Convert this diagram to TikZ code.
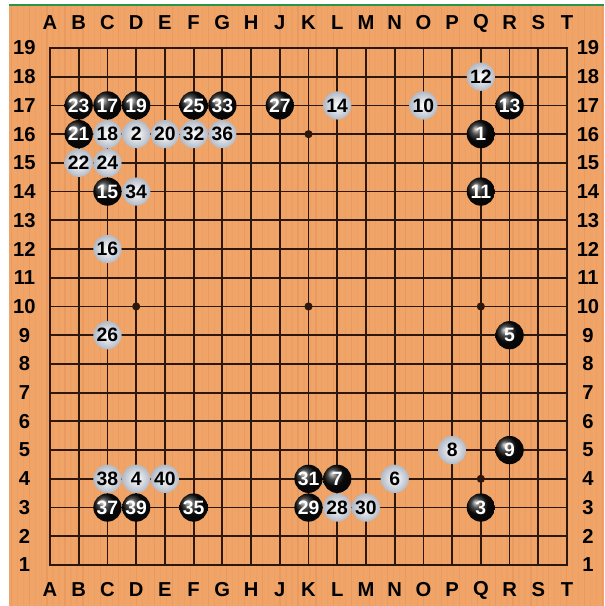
\documentclass[tikz,border=0pt]{standalone}
\usepackage{fontspec}
\setmainfont{Liberation Sans}
\usepackage{tikz}
\usetikzlibrary{shapes.geometric, positioning, calc}
\definecolor{woodbg}{RGB}{240,164,104}
\definecolor{woodgrain}{RGB}{214,132,78}
\definecolor{gridline}{RGB}{45,22,10}
\definecolor{topgreen}{RGB}{40,150,70}
\definecolor{stoneedge}{RGB}{178,186,198}
\tikzset{
  gridl/.style={line width=1.05pt, color=gridline},
  hoshi/.style={circle, fill=gridline, inner sep=0pt, minimum size=0.17cm},
  coordlabel/.style={font=\fontsize{12}{13}\selectfont\bfseries, text=black},
  blackstone/.style={circle, inner sep=0pt, minimum size=0.59cm, ball color=black!95,
    text=white, font=\fontsize{11.5}{12}\selectfont\bfseries},
  whitestn/.style={circle, inner sep=0pt, minimum size=0.59cm, shading=radial,
    inner color=white, outer color=stoneedge,
    text=black, font=\fontsize{11.5}{12}\selectfont\bfseries}
}
\begin{document}
\begin{tikzpicture}[x=0.6cm, y=0.6cm]
  \useasboundingbox (-1.741,-1.428) rectangle (19.29,19.67);
  % Board background
  \fill[woodbg] (-1.427,-1.428) rectangle (19.29,19.50);
  \foreach \i in {0,...,99} {
    \pgfmathsetmacro{\xx}{-1.35+\i*0.208}
    \pgfmathsetmacro{\op}{mod(\i,3)==0 ? 0.3 : 0.12}
    \draw[woodgrain, line width=0.7pt, opacity=\op] (\xx,-1.428) -- (\xx,19.50);
  }
  \draw[topgreen, line width=0.9pt] (-1.427,19.50) -- (19.29,19.50);

  % Grid
  \foreach \i in {0,...,18} {
    \draw[gridl] (\i,0) -- (\i,18);
    \draw[gridl] (0,\i) -- (18,\i);
  }
  \draw[gridl] (0,0) rectangle (18,18);

  % Star points
  \foreach \hx in {3,9,15}
    \foreach \hy in {3,9,15}
      \node[hoshi] (h\hx\hy) at (\hx,\hy) {};

  % Coordinates
  \foreach \c [count=\i from 0] in {A,B,C,D,E,F,G,H,J,K,L,M,N,O,P,Q,R,S,T} {
    \node[coordlabel] (top\c) at (\i,18.87) {\c};
    \node[coordlabel] (bot\c) at (\i,-0.87) {\c};
  }
  \foreach \r in {1,...,19} {
    \node[coordlabel] (left\r) at (-0.89,\r-1) {\r};
    \node[coordlabel] (right\r) at (18.73,\r-1) {\r};
  }

  % Black stones
  \foreach \n/\c/\r in {1/15/16, 3/15/3, 5/16/9, 7/10/4, 9/16/5, 11/15/14, 13/16/17,
      15/2/14, 17/2/17, 19/3/17, 21/1/16, 23/1/17, 25/5/17, 27/8/17, 29/9/3,
      31/9/4, 33/6/17, 35/5/3, 37/2/3, 39/3/3}
    \node[blackstone] (m\n) at (\c,\r-1) {\n};

  % White stones
  \foreach \n/\c/\r in {2/3/16, 4/3/4, 6/12/4, 8/14/5, 10/13/17, 12/15/18, 14/10/17,
      16/2/12, 18/2/16, 20/4/16, 22/1/15, 24/2/15, 26/2/9, 28/10/3, 30/11/3,
      32/5/16, 34/3/14, 36/6/16, 38/2/4, 40/4/4}
    \node[whitestn] (m\n) at (\c,\r-1) {\n};
\end{tikzpicture}
\end{document}
